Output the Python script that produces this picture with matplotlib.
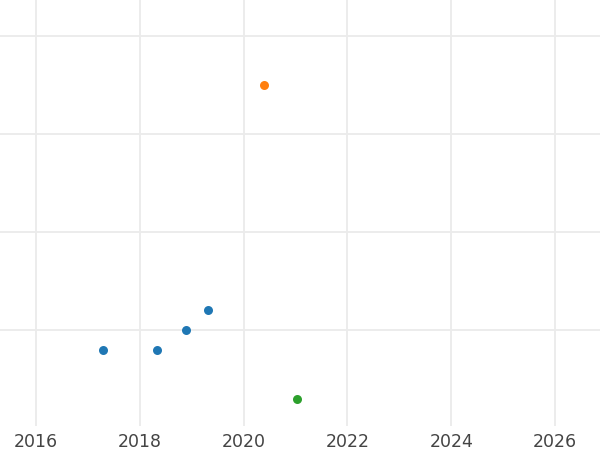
import numpy as np
import matplotlib.pyplot as plt

# data
blue_x = [2017.30, 2018.33, 2018.89, 2019.31]
blue_y = [1.8, 1.8, 2.0, 2.2]
orange_x = [2020.40]
orange_y = [4.5]
green_x = [2021.03]
green_y = [1.3]

year_ticks = [2016, 2018, 2020, 2022, 2024, 2026]
odd_years = [2017, 2019, 2021, 2023, 2025]
y_grid = [2, 3, 4, 5]

fig = plt.figure(figsize=(6, 4.5), dpi=100)
ax = fig.add_axes([0, 0.0533, 1, 0.9467])

ax.scatter(blue_x, blue_y, s=42, color='#1f77b4', zorder=3, linewidths=0)
ax.scatter(orange_x, orange_y, s=42, color='#ff7f0e', zorder=3, linewidths=0)
ax.scatter(green_x, green_y, s=42, color='#2ca02c', zorder=3, linewidths=0)

ax.set_xlim(2015.306, 2026.867)
ax.set_ylim(1.02, 5.367)

ax.set_xticks(year_ticks)
ax.set_xticklabels([str(y) for y in year_ticks])
ax.set_yticks(y_grid)
ax.set_yticklabels([])

ax.grid(True, color='#ebebeb', linewidth=1.3, zorder=0)
ax.set_axisbelow(True)
ax.tick_params(axis='both', length=0)
ax.tick_params(axis='x', labelsize=12.5, labelcolor='#444444', pad=5)
for sp in ax.spines.values():
    sp.set_visible(False)

fig.savefig('out.png', dpi=100)
